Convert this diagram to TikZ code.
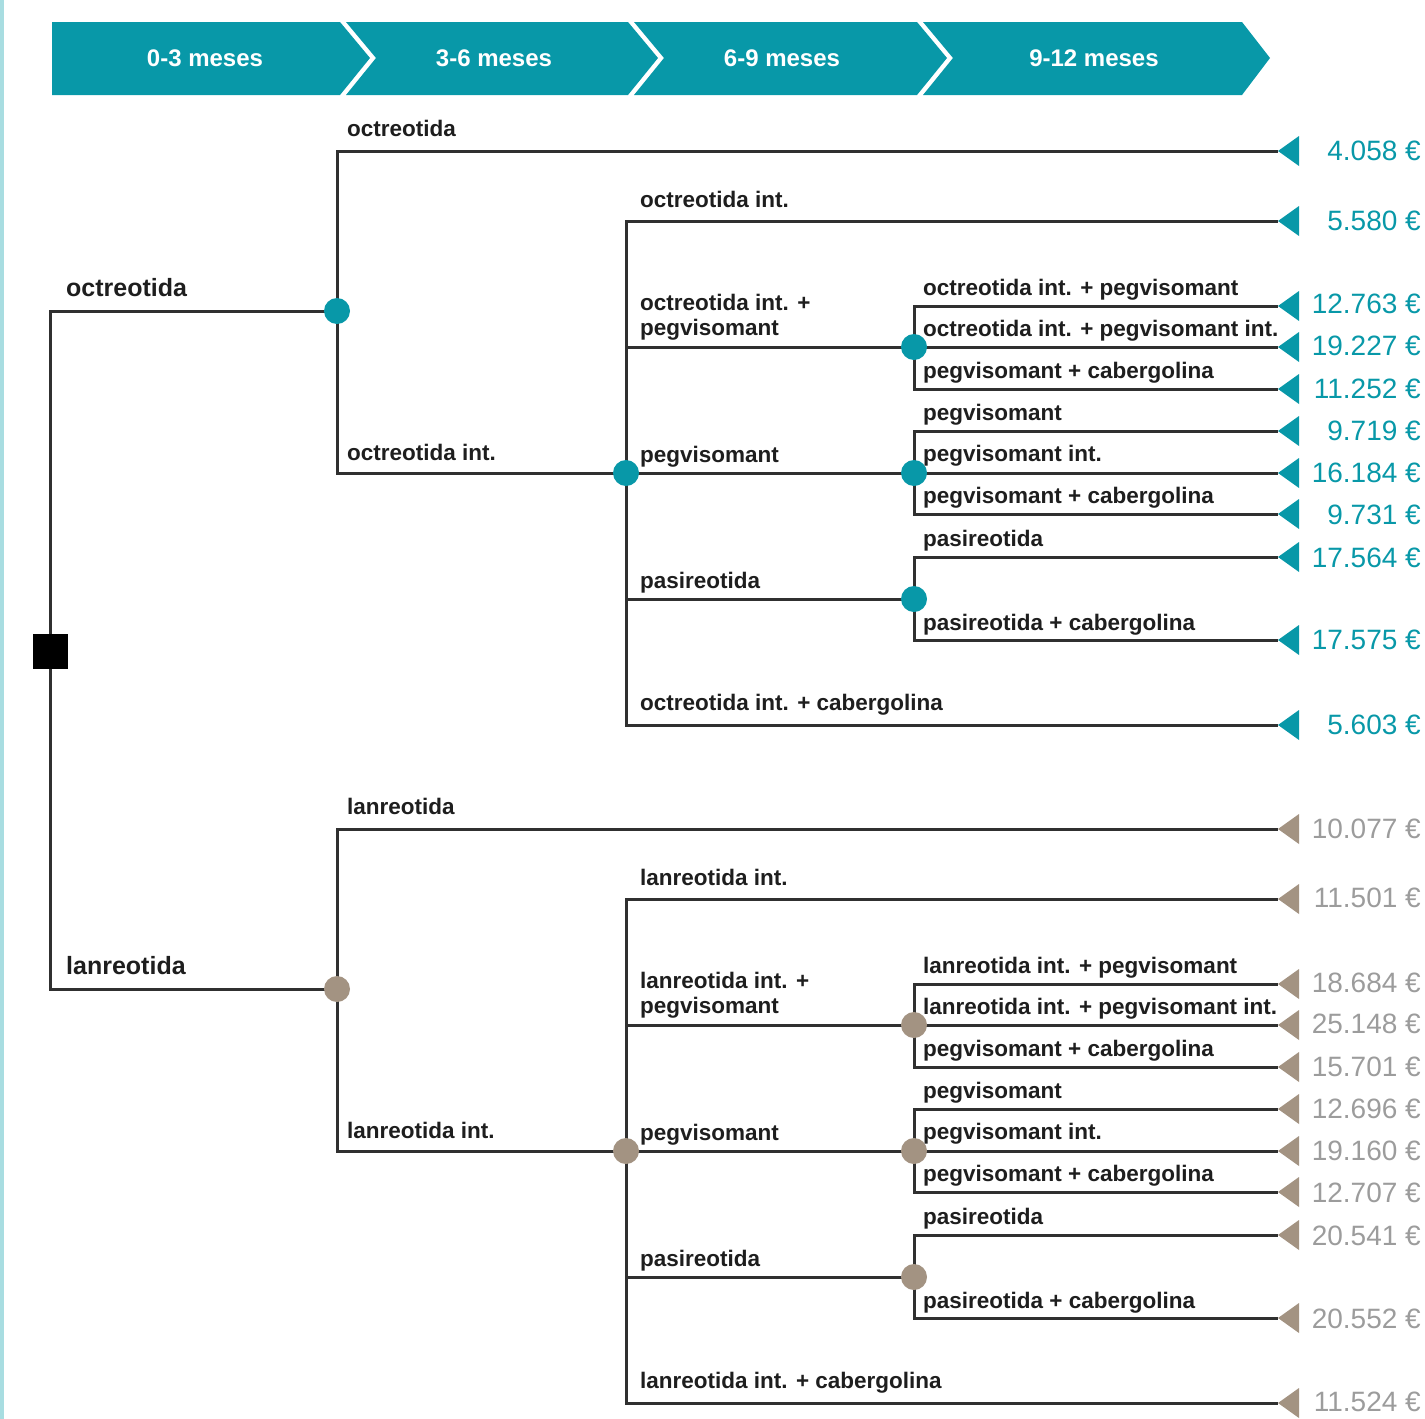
\documentclass[tikz,border=0pt]{standalone}
\usepackage{fontspec}
\setmainfont{Liberation Sans}
\usetikzlibrary{backgrounds}
\definecolor{tealc}{HTML}{0898A8}
\definecolor{taupe}{HTML}{A39382}
\definecolor{valgray}{HTML}{9C9C9C}
\definecolor{linec}{HTML}{303030}
\definecolor{edgecyan}{HTML}{A8DDE1}
\definecolor{lblc}{HTML}{1E1E1E}
\tikzset{
  br/.style={draw=linec, line width=3pt},
  chance/.style={circle, fill=#1, minimum size=26pt, inner sep=0pt},
  decision/.style={rectangle, fill=black, minimum size=35pt, inner sep=0pt},
  lbl/.style={anchor=base west, inner sep=0pt, text=lblc, font=\bfseries\fontsize{22.5}{25}\selectfont},
  lbltwo/.style={anchor=south west, inner sep=0pt, align=left, text=lblc, font=\bfseries\fontsize{22.5}{25}\selectfont},
  mainlbl/.style={lbl, font=\bfseries\fontsize{25}{28}\selectfont},
  val/.style={anchor=east, inner sep=0pt, text=#1, font=\fontsize{28}{30}\selectfont},
  hdr/.style={text=white, font=\bfseries\fontsize{24}{26}\selectfont},
  band/.style={fill=tealc},
  tip/.style={fill=#1},
}
\begin{document}
\begin{tikzpicture}[x=1pt,y=-1pt]
\useasboundingbox (0,0) rectangle (1425,1419);
\fill[edgecyan] (0,0) rectangle (4,1419);

% ---------- header band ----------
\fill[band] (52,22) -- (340,22) -- (370,58) -- (340,95) -- (52,95) -- cycle;
\fill[band] (346,22) -- (628,22) -- (658,58) -- (628,95) -- (346,95) -- (376,58) -- cycle;
\fill[band] (634,22) -- (917,22) -- (947,58) -- (917,95) -- (634,95) -- (664,58) -- cycle;
\fill[band] (923,22) -- (1242,22) -- (1270,58) -- (1242,95) -- (923,95) -- (953,58) -- cycle;
\node[hdr] (h1) at (205,58) {0-3 meses};
\node[hdr] (h2) at (494,58) {3-6 meses};
\node[hdr] (h3) at (782,58) {6-9 meses};
\node[hdr] (h4) at (1094,58) {9-12 meses};

% ---------- nodes ----------
\node[decision] (root) at (50,651) {};
% octreotida half
\node[chance=tealc] (oc1) at (337,311) {};
\node[chance=tealc] (oc2) at (626,473) {};
\node[chance=tealc] (oc3) at (914,347) {};
\node[chance=tealc] (oc4) at (914,473) {};
\node[chance=tealc] (oc5) at (914,599) {};
\coordinate (ot1) at (1278,151);
\coordinate (ot2) at (1278,221);
\coordinate (ot3) at (1278,306);
\coordinate (ot4) at (1278,347);
\coordinate (ot5) at (1278,389);
\coordinate (ot6) at (1278,431);
\coordinate (ot7) at (1278,473);
\coordinate (ot8) at (1278,514);
\coordinate (ot9) at (1278,557);
\coordinate (ot10) at (1278,640);
\coordinate (ot11) at (1278,725);
% lanreotida half
\node[chance=taupe] (lc1) at (337,989) {};
\node[chance=taupe] (lc2) at (626,1151) {};
\node[chance=taupe] (lc3) at (914,1025) {};
\node[chance=taupe] (lc4) at (914,1151) {};
\node[chance=taupe] (lc5) at (914,1277) {};
\coordinate (lt1) at (1278,829);
\coordinate (lt2) at (1278,899);
\coordinate (lt3) at (1278,984);
\coordinate (lt4) at (1278,1025);
\coordinate (lt5) at (1278,1067);
\coordinate (lt6) at (1278,1109);
\coordinate (lt7) at (1278,1151);
\coordinate (lt8) at (1278,1192);
\coordinate (lt9) at (1278,1235);
\coordinate (lt10) at (1278,1318);
\coordinate (lt11) at (1278,1403);

% ---------- connectors ----------
\begin{scope}[on background layer]
\draw[br] (root.center) |- (oc1.center);
\draw[br] (root.center) |- (lc1.center);
\foreach \p in {o,l}{
  \draw[br] (\p c1.center) |- (\p t1);
  \draw[br] (\p c1.center) |- (\p c2.center);
  \draw[br] (\p c2.center) |- (\p t2);
  \draw[br] (\p c2.center) |- (\p c3.center);
  \draw[br] (\p c2.center) -- (\p c4.center);
  \draw[br] (\p c2.center) |- (\p c5.center);
  \draw[br] (\p c2.center) |- (\p t11);
  \draw[br] (\p c3.center) |- (\p t3);
  \draw[br] (\p c3.center) -- (\p t4);
  \draw[br] (\p c3.center) |- (\p t5);
  \draw[br] (\p c4.center) |- (\p t6);
  \draw[br] (\p c4.center) -- (\p t7);
  \draw[br] (\p c4.center) |- (\p t8);
  \draw[br] (\p c5.center) |- (\p t9);
  \draw[br] (\p c5.center) |- (\p t10);
}
\end{scope}

% ---------- terminal tips ----------
\foreach \i in {1,...,11}{
  \fill[tip=tealc] (ot\i) -- ++(21,-15) -- ++(0,30) -- cycle;
  \fill[tip=taupe] (lt\i) -- ++(21,-15) -- ++(0,30) -- cycle;
}

% ---------- values ----------
\node[val=tealc] (ov1) at (1421,151) {4.058 €};
\node[val=tealc] (ov2) at (1421,221) {5.580 €};
\node[val=tealc] (ov3) at (1421,304) {12.763 €};
\node[val=tealc] (ov4) at (1421,346) {19.227 €};
\node[val=tealc] (ov5) at (1421,389) {11.252 €};
\node[val=tealc] (ov6) at (1421,431) {9.719 €};
\node[val=tealc] (ov7) at (1421,473) {16.184 €};
\node[val=tealc] (ov8) at (1421,515) {9.731 €};
\node[val=tealc] (ov9) at (1421,558) {17.564 €};
\node[val=tealc] (ov10) at (1421,640) {17.575 €};
\node[val=tealc] (ov11) at (1421,725) {5.603 €};
\node[val=valgray] (lv1) at (1421,829) {10.077 €};
\node[val=valgray] (lv2) at (1421,898) {11.501 €};
\node[val=valgray] (lv3) at (1421,983) {18.684 €};
\node[val=valgray] (lv4) at (1421,1024) {25.148 €};
\node[val=valgray] (lv5) at (1421,1067) {15.701 €};
\node[val=valgray] (lv6) at (1421,1109) {12.696 €};
\node[val=valgray] (lv7) at (1421,1151) {19.160 €};
\node[val=valgray] (lv8) at (1421,1193) {12.707 €};
\node[val=valgray] (lv9) at (1421,1236) {20.541 €};
\node[val=valgray] (lv10) at (1421,1319) {20.552 €};
\node[val=valgray] (lv11) at (1421,1402) {11.524 €};

% ---------- branch labels ----------
\node[mainlbl] (m1) at (66,296) {octreotida};
\node[mainlbl] (m2) at (66,974) {lanreotida};

\node[lbl] (oa1) at (347,136) {octreotida};
\node[lbl] (oa2) at (347,460) {octreotida int.};
\node[lbl] (ob1) at (640,207) {octreotida int.};
\node[lbltwo] (ob2) at (640,340) {octreotida int. +\\pegvisomant};
\node[lbl] (ob3) at (640,462) {pegvisomant};
\node[lbl] (ob4) at (640,588) {pasireotida};
\node[lbl] (ob5) at (640,710) {octreotida int. + cabergolina};
\node[lbl] (oc31) at (923,295) {octreotida int. + pegvisomant};
\node[lbl] (oc32) at (923,336) {octreotida int. + pegvisomant int.};
\node[lbl] (oc33) at (923,378) {pegvisomant + cabergolina};
\node[lbl] (oc41) at (923,420) {pegvisomant};
\node[lbl] (oc42) at (923,461) {pegvisomant int.};
\node[lbl] (oc43) at (923,503) {pegvisomant + cabergolina};
\node[lbl] (oc51) at (923,546) {pasireotida};
\node[lbl] (oc52) at (923,630) {pasireotida + cabergolina};

\node[lbl] (la1) at (347,814) {lanreotida};
\node[lbl] (la2) at (347,1138) {lanreotida int.};
\node[lbl] (lb1) at (640,885) {lanreotida int.};
\node[lbltwo] (lb2) at (640,1018) {lanreotida int. +\\pegvisomant};
\node[lbl] (lb3) at (640,1140) {pegvisomant};
\node[lbl] (lb4) at (640,1266) {pasireotida};
\node[lbl] (lb5) at (640,1388) {lanreotida int. + cabergolina};
\node[lbl] (lc31) at (923,973) {lanreotida int. + pegvisomant};
\node[lbl] (lc32) at (923,1014) {lanreotida int. + pegvisomant int.};
\node[lbl] (lc33) at (923,1056) {pegvisomant + cabergolina};
\node[lbl] (lc41) at (923,1098) {pegvisomant};
\node[lbl] (lc42) at (923,1139) {pegvisomant int.};
\node[lbl] (lc43) at (923,1181) {pegvisomant + cabergolina};
\node[lbl] (lc51) at (923,1224) {pasireotida};
\node[lbl] (lc52) at (923,1308) {pasireotida + cabergolina};
\end{tikzpicture}
\end{document}
